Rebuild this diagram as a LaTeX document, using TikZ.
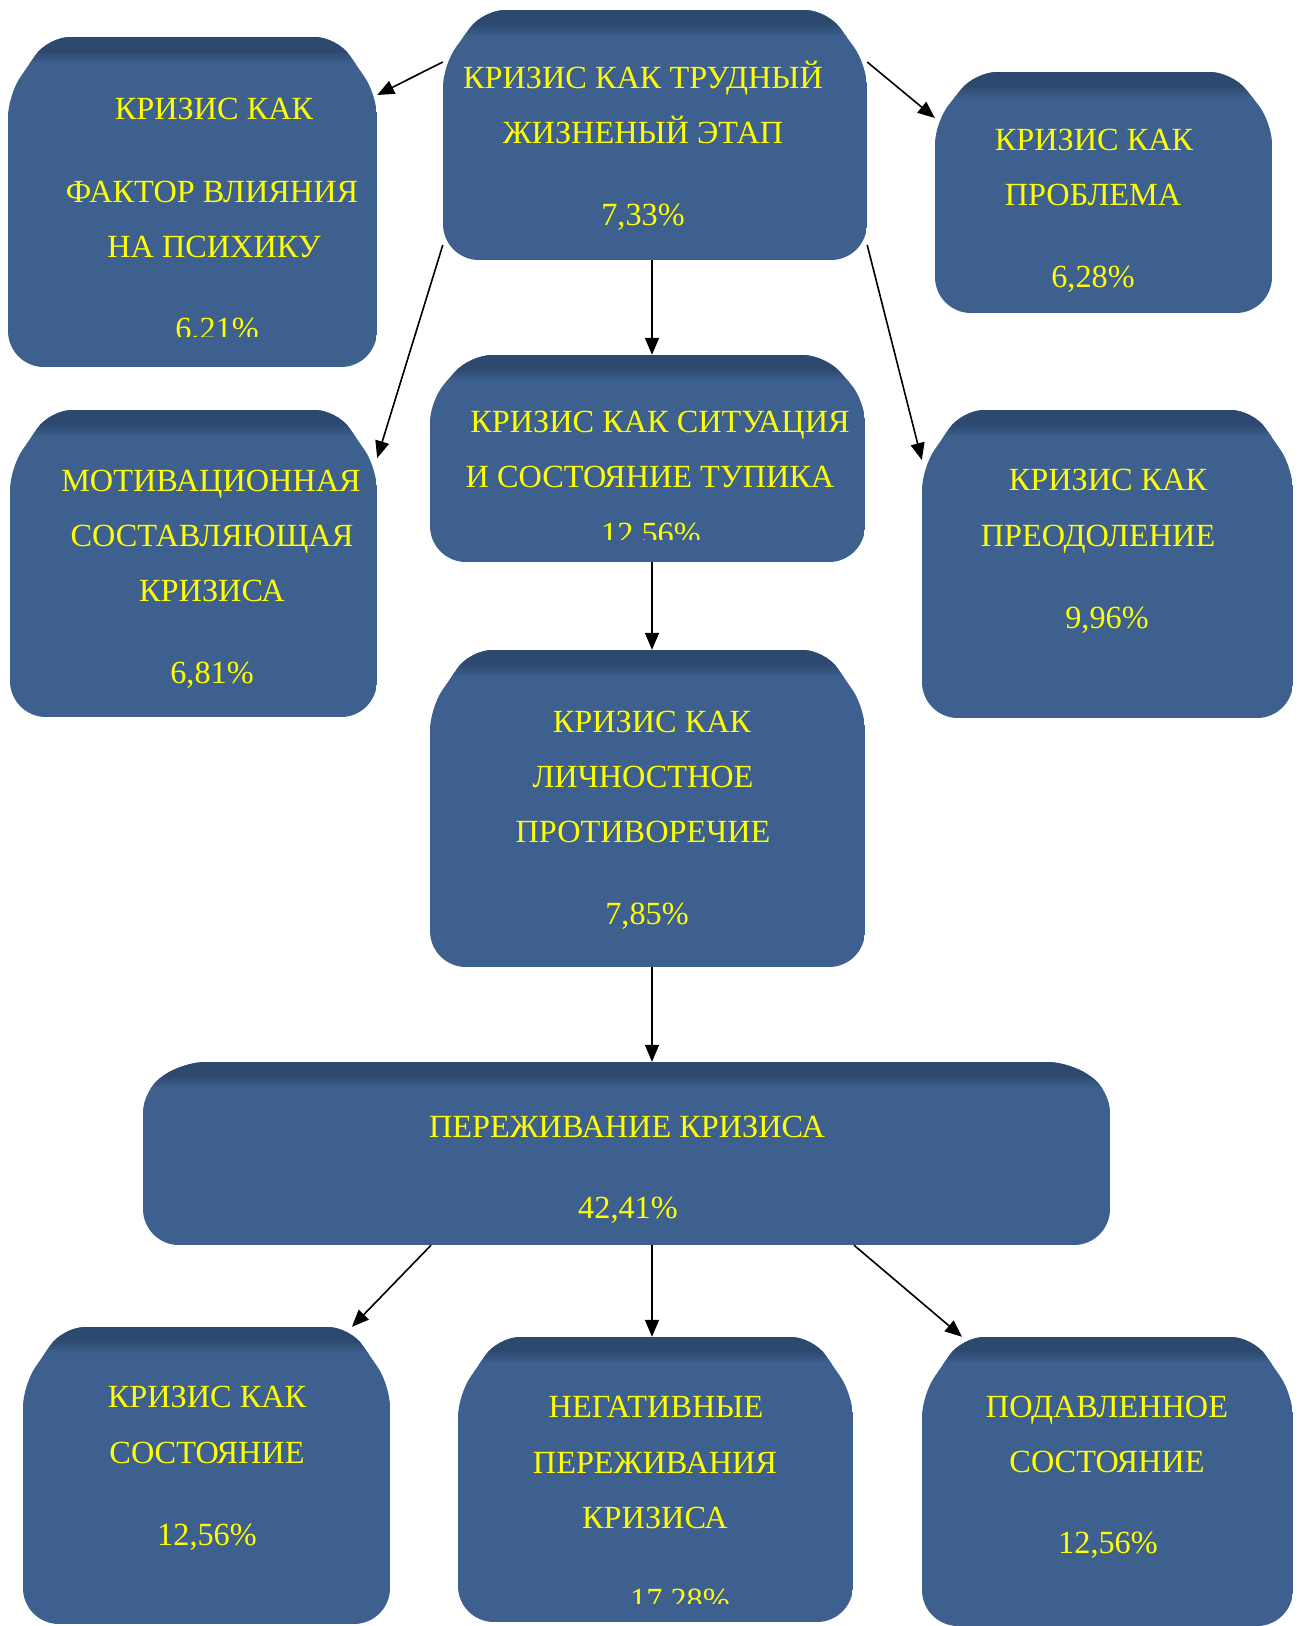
\documentclass[tikz,border=0pt]{standalone}
\usepackage{fontspec}
\setmainfont{Liberation Serif}
\usetikzlibrary{arrows.meta}
\definecolor{boxblue}{RGB}{61,96,142}
\definecolor{boxdark}{RGB}{45,73,111}
\definecolor{txtyellow}{RGB}{255,255,0}
\tikzset{
  arr/.style={line width=1.6pt, -{Triangle[length=17pt,width=14pt]}},
  txt/.style={anchor=base, inner sep=0pt, text=txtyellow, font=\fontsize{32.3}{32}\selectfont},
  anchorbox/.style={inner sep=0pt, draw=none},
}
% name, left, top, right, bottom, chamfer height (pixel coordinates, y down)
\newcommand\bevelbox[6]{%
  \node[anchorbox, minimum width={(#4-#2)*1pt}, minimum height={(#5-#3)*1pt}] (#1) at ({(#2+#4)/2},{(#3+#5)/2}) {};
  \begin{scope}
    \path[clip] (#2,{(#3+#5)/2}) [rounded corners=22pt] -- (#2,{#3+#6}) -- ({#2+40},#3) -- ({#4-40},#3) -- (#4,{#3+#6}) [rounded corners=36pt] -- (#4,#5) -- (#2,#5) -- (#2,{(#3+#5)/2}) -- cycle;
    \fill[boxblue] (#2,#3) rectangle (#4,#5);
    \fill[boxdark] (#2,#3) rectangle (#4,{#3+14});
    \shade[top color=boxdark, bottom color=boxblue] (#2,{#3+14}) rectangle (#4,{#3+26});
  \end{scope}}
\begin{document}
\begin{tikzpicture}[x=1pt,y=-1pt]
\useasboundingbox (0,0) rectangle (1304,1626);
\fill[white] (0,0) rectangle (1304,1626);

\bevelbox{A}{8}{37}{377}{367}{58}
\bevelbox{T}{443}{10}{867}{260}{55}
\bevelbox{P}{935}{72}{1272}{313}{50}
\bevelbox{M}{10}{410}{377}{717}{58}
\bevelbox{S}{430}{355}{865}{562}{45}
\bevelbox{O}{922}{410}{1293}{718}{58}
\bevelbox{L}{430}{650}{865}{967}{58}
\bevelbox{E}{143}{1062}{1110}{1245}{28}
\bevelbox{B1}{23}{1327}{390}{1624}{58}
\bevelbox{B2}{458}{1337}{853}{1622}{58}
\bevelbox{B3}{922}{1337}{1293}{1626}{58}

% texts
\node[txt] (A1) at (214,119) {КРИЗИС КАК};
\node[txt] (A2) at (212,202) {ФАКТОР ВЛИЯНИЯ};
\node[txt] (A3) at (214,257) {НА ПСИХИКУ};
\begin{scope}
  \clip (8,300) rectangle (377,336);
  \node[txt] (A4) at (217,339) {6.21\%};
\end{scope}

\node[txt] (T1) at (643,88) {КРИЗИС КАК ТРУДНЫЙ};
\node[txt] (T2) at (643,143) {ЖИЗНЕНЫЙ ЭТАП};
\node[txt] (T3) at (643,225) {7,33\%};

\node[txt] (P1) at (1094,150) {КРИЗИС КАК};
\node[txt] (P2) at (1093,205) {ПРОБЛЕМА};
\node[txt] (P3) at (1093,287) {6,28\%};

\node[txt] (S1) at (660,432) {КРИЗИС КАК СИТУАЦИЯ};
\node[txt] (S2) at (650,487) {И СОСТОЯНИЕ ТУПИКА};
\begin{scope}
  \clip (430,500) rectangle (865,539);
  \node[txt] (S3) at (651,544) {12,56\%};
\end{scope}

\node[txt] (M1) at (211,491) {МОТИВАЦИОННАЯ};
\node[txt] (M2) at (212,546) {СОСТАВЛЯЮЩАЯ};
\node[txt] (M3) at (212,601) {КРИЗИСА};
\node[txt] (M4) at (212,683) {6,81\%};

\node[txt] (O1) at (1108,490) {КРИЗИС КАК};
\node[txt] (O2) at (1098,546) {ПРЕОДОЛЕНИЕ};
\node[txt] (O3) at (1107,628) {9,96\%};

\node[txt] (L1) at (652,732) {КРИЗИС КАК};
\node[txt] (L2) at (643,787) {ЛИЧНОСТНОЕ};
\node[txt] (L3) at (643,842) {ПРОТИВОРЕЧИЕ};
\node[txt] (L4) at (647,924) {7,85\%};

\node[txt] (E1) at (627,1137) {ПЕРЕЖИВАНИЕ КРИЗИСА};
\node[txt] (E2) at (628,1218) {42,41\%};

\node[txt] (B11) at (207,1407) {КРИЗИС КАК};
\node[txt] (B12) at (207,1463) {СОСТОЯНИЕ};
\node[txt] (B13) at (207,1545) {12,56\%};

\node[txt] (B21) at (656,1417) {НЕГАТИВНЫЕ};
\node[txt] (B22) at (655,1473) {ПЕРЕЖИВАНИЯ};
\node[txt] (B23) at (655,1528) {КРИЗИСА};
\begin{scope}
  \clip (458,1570) rectangle (853,1603);
  \node[txt] (B24) at (680,1610) {17,28\%};
\end{scope}

\node[txt] (B31) at (1107,1417) {ПОДАВЛЕННОЕ};
\node[txt] (B32) at (1107,1472) {СОСТОЯНИЕ};
\node[txt] (B33) at (1108,1553) {12,56\%};

% connectors
\draw[arr] (T.west |- 0,62) -- (A.east |- 0,95);
\draw[arr] (T.west |- 0,245) -- (M.east |- 0,458);
\draw[arr] (T.east |- 0,62) -- (P.west |- 0,118);
\draw[arr] (T.east |- 0,245) -- (O.west |- 0,460);
\draw[arr] (652,0 |- T.south) -- (652,0 |- S.north);
\draw[arr] (652,0 |- S.south) -- (652,0 |- L.north);
\draw[arr] (652,0 |- L.south) -- (652,0 |- E.north);
\draw[arr] (431,0 |- E.south) -- (352,0 |- B1.north);
\draw[arr] (652,0 |- E.south) -- (652,0 |- B2.north);
\draw[arr] (854,0 |- E.south) -- (962,0 |- B3.north);
\end{tikzpicture}
\end{document}
